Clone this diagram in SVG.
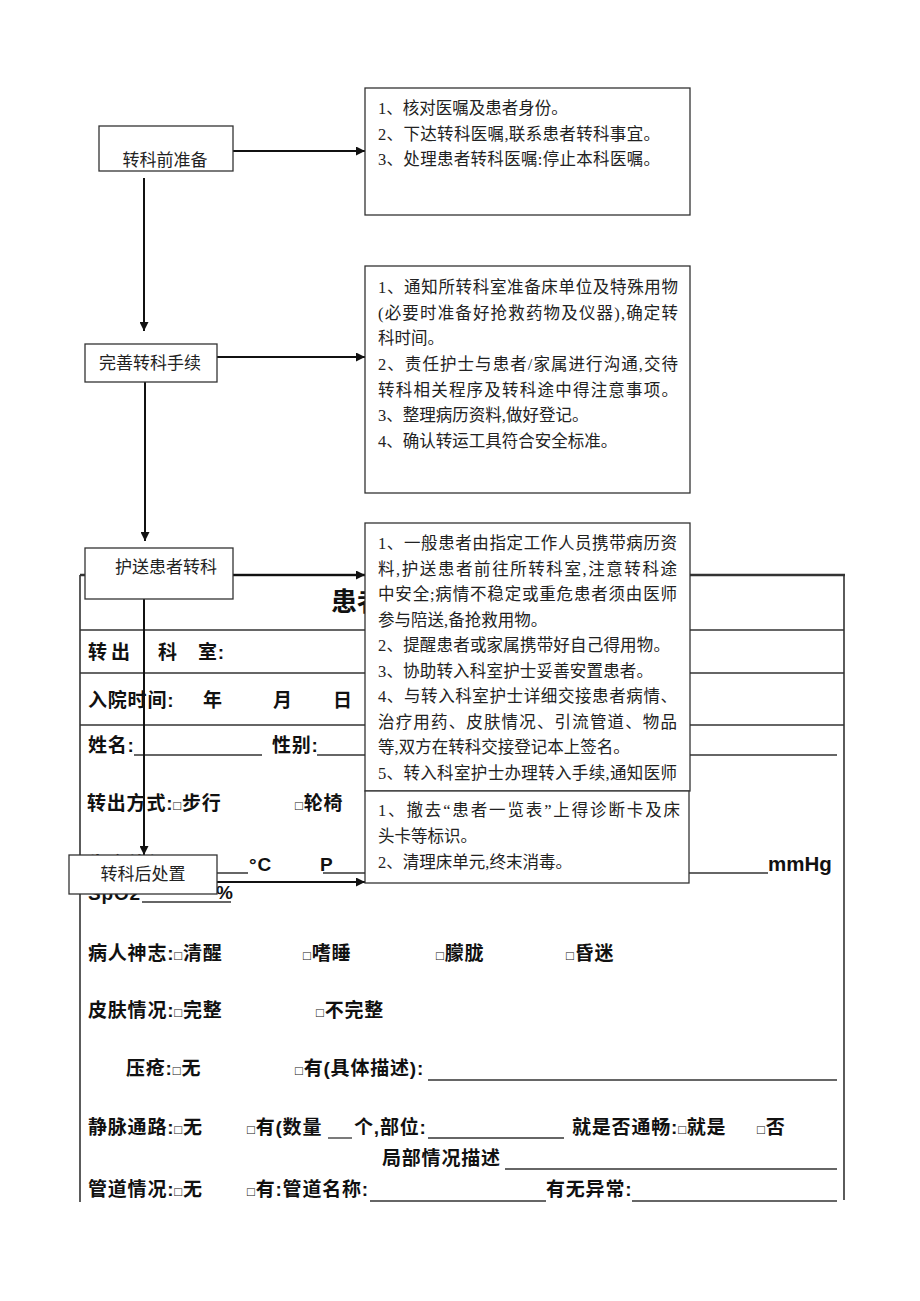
<svg xmlns="http://www.w3.org/2000/svg" width="920" height="1301" viewBox="0 0 920 1301">
<defs>
<style>
.bg{fill:#fff}
.box{fill:#fff;stroke:#333;stroke-width:1.3}
.tl{stroke:#333;stroke-width:1.6;fill:none}
.ul{stroke:#333;stroke-width:1.3;fill:none}
.con{stroke:#111;stroke-width:2;fill:none}
.bt{font-family:"Liberation Serif","Noto Sans CJK SC",serif;font-size:16.5px;fill:#222}
.lb{font-family:"Liberation Serif","Noto Sans CJK SC",serif;font-size:17px;fill:#222;text-anchor:middle}
.tb{font-family:"Liberation Sans","Noto Sans CJK SC",sans-serif;font-size:19px;font-weight:bold;fill:#111;letter-spacing:0.8px}
.cb{font-size:13px;font-weight:normal}
</style>
<marker id="ah" viewBox="0 0 10 10" refX="10" refY="5" markerWidth="10" markerHeight="9" markerUnits="userSpaceOnUse" orient="auto">
<path d="M0,0 L10,5 L0,10 z" fill="#111"/>
</marker>
</defs>
<rect class="bg" x="0" y="0" width="920" height="1301"/>

<g id="form-table">
<line class="tl" x1="80" y1="575" x2="845" y2="575" style="stroke-width:2.4"/>
<line class="tl" x1="80" y1="575" x2="80" y2="1202"/>
<line class="tl" x1="844" y1="575" x2="844" y2="1200"/>
<line class="tl" x1="80" y1="630" x2="844" y2="630"/>
<line class="tl" x1="80" y1="673" x2="844" y2="673"/>
<line class="tl" x1="80" y1="725" x2="844" y2="725"/>
<text x="331" y="611" font-family="'Liberation Sans','Noto Sans CJK SC',sans-serif" font-size="26" font-weight="bold" fill="#111">患者</text>
<text class="tb" y="659"><tspan x="88">转</tspan><tspan x="111">出</tspan><tspan x="158">科</tspan><tspan x="198">室:</tspan></text>
<text class="tb" y="707"><tspan x="88">入院时间:</tspan><tspan x="203">年</tspan><tspan x="273">月</tspan><tspan x="333">日</tspan></text>
<text class="tb" x="88" y="752">姓名:</text>
<line class="ul" x1="134" y1="755" x2="262" y2="755"/>
<text class="tb" x="272" y="752">性别:</text>
<line class="ul" x1="317" y1="755" x2="837" y2="755"/>
<text class="tb" y="810"><tspan x="87">转出方式:<tspan class="cb">□</tspan>步行</tspan><tspan x="295"><tspan class="cb">□</tspan>轮椅</tspan></text>
<text class="tb" x="88" y="871">生命体征:T</text>
<line class="ul" x1="190" y1="873" x2="248" y2="873"/>
<text class="tb" x="249" y="871">°C</text>
<text class="tb" x="320" y="871">P</text>
<line class="ul" x1="323" y1="873" x2="768" y2="873"/>
<text class="tb" x="768" y="871" style="font-size:20.5px;letter-spacing:0">mmHg</text>
<text class="tb" x="88" y="900">SpO2</text>
<line class="ul" x1="142" y1="902" x2="231" y2="902"/>
<text class="tb" x="216" y="899">%</text>
<text class="tb" y="960"><tspan x="88">病人神志:<tspan class="cb">□</tspan>清醒</tspan><tspan x="303"><tspan class="cb">□</tspan>嗜睡</tspan><tspan x="436"><tspan class="cb">□</tspan>朦胧</tspan><tspan x="566"><tspan class="cb">□</tspan>昏迷</tspan></text>
<text class="tb" y="1017"><tspan x="88">皮肤情况:<tspan class="cb">□</tspan>完整</tspan><tspan x="316"><tspan class="cb">□</tspan>不完整</tspan></text>
<text class="tb" y="1075"><tspan x="126">压疮:<tspan class="cb">□</tspan>无</tspan><tspan x="295"><tspan class="cb">□</tspan>有(具体描述):</tspan></text>
<line class="ul" x1="428" y1="1080" x2="837" y2="1080"/>
<text class="tb" y="1134"><tspan x="88">静脉通路:<tspan class="cb">□</tspan>无</tspan><tspan x="247"><tspan class="cb">□</tspan>有(数量</tspan><tspan x="354">个,部位:</tspan><tspan x="572">就是否通畅:<tspan class="cb">□</tspan>就是</tspan><tspan x="757"><tspan class="cb">□</tspan>否</tspan></text>
<line class="ul" x1="328" y1="1138" x2="352" y2="1138"/>
<line class="ul" x1="428" y1="1138" x2="564" y2="1138"/>
<text class="tb" x="382" y="1165">局部情况描述</text>
<line class="ul" x1="505" y1="1169" x2="837" y2="1169"/>
<text class="tb" y="1196"><tspan x="88">管道情况:<tspan class="cb">□</tspan>无</tspan><tspan x="247"><tspan class="cb">□</tspan>有:管道名称:</tspan><tspan x="546">有无异常:</tspan></text>
<line class="ul" x1="370" y1="1201" x2="546" y2="1201"/>
<line class="ul" x1="632" y1="1201" x2="837" y2="1201"/>
</g>

<g id="connectors">
<line class="con" x1="233" y1="151" x2="365" y2="151" marker-end="url(#ah)"/>
<line class="con" x1="144" y1="178" x2="144" y2="331" marker-end="url(#ah)"/>
<line class="con" x1="217" y1="357" x2="365" y2="357" marker-end="url(#ah)"/>
<line class="con" x1="145" y1="382" x2="145" y2="541" marker-end="url(#ah)"/>
<line class="con" x1="233" y1="575" x2="365" y2="575" marker-end="url(#ah)"/>
<line class="con" x1="144" y1="599" x2="144" y2="855" marker-end="url(#ah)"/>
<line class="con" x1="217" y1="882" x2="365" y2="882" marker-end="url(#ah)"/>
</g>

<g id="n-prep">
<rect class="box" x="99" y="126" width="134" height="45"/>
<text class="lb" x="165" y="166" style="font-family:'Noto Sans CJK SC',sans-serif">转科前准备</text>
</g>
<g id="n-prep-detail">
<rect class="box" x="365" y="88" width="325" height="127"/>
<text class="bt" x="378" y="114">1、核对医嘱及患者身份。</text>
<text class="bt" x="378" y="139.5" textLength="282" lengthAdjust="spacing">2、下达转科医嘱,联系患者转科事宜。</text>
<text class="bt" x="378" y="165" textLength="282" lengthAdjust="spacing">3、处理患者转科医嘱:停止本科医嘱。</text>
</g>

<g id="n-proc">
<rect class="box" x="85" y="344" width="132" height="38"/>
<text class="lb" x="150" y="369">完善转科手续</text>
</g>
<g id="n-proc-detail">
<rect class="box" x="365" y="266" width="325" height="227"/>
<text class="bt" x="378" y="293" textLength="300" lengthAdjust="spacing">1、通知所转科室准备床单位及特殊用物</text>
<text class="bt" x="378" y="319" textLength="300" lengthAdjust="spacing">(必要时准备好抢救药物及仪器),确定转</text>
<text class="bt" x="378" y="344">科时间。</text>
<text class="bt" x="378" y="370" textLength="300" lengthAdjust="spacing">2、责任护士与患者/家属进行沟通,交待</text>
<text class="bt" x="378" y="396" textLength="300" lengthAdjust="spacing">转科相关程序及转科途中得注意事项。</text>
<text class="bt" x="378" y="421">3、整理病历资料,做好登记。</text>
<text class="bt" x="378" y="447">4、确认转运工具符合安全标准。</text>
</g>

<g id="n-escort">
<rect class="box" x="85" y="548" width="148" height="51"/>
<text class="lb" x="166" y="573">护送患者转科</text>
</g>
<g id="n-escort-detail">
<rect class="box" x="365" y="523" width="325" height="268"/>
<text class="bt" x="378" y="549" textLength="299" lengthAdjust="spacing">1、一般患者由指定工作人员携带病历资</text>
<text class="bt" x="378" y="574.5" textLength="299" lengthAdjust="spacing">料,护送患者前往所转科室,注意转科途</text>
<text class="bt" x="378" y="600" textLength="299" lengthAdjust="spacing">中安全;病情不稳定或重危患者须由医师</text>
<text class="bt" x="378" y="625.5">参与陪送,备抢救用物。</text>
<text class="bt" x="378" y="651" textLength="292" lengthAdjust="spacing">2、提醒患者或家属携带好自己得用物。</text>
<text class="bt" x="378" y="676.5" textLength="275" lengthAdjust="spacing">3、协助转入科室护士妥善安置患者。</text>
<text class="bt" x="378" y="702" textLength="299" lengthAdjust="spacing">4、与转入科室护士详细交接患者病情、</text>
<text class="bt" x="378" y="727.5" textLength="299" lengthAdjust="spacing">治疗用药、皮肤情况、引流管道、物品</text>
<text class="bt" x="378" y="753">等,双方在转科交接登记本上签名。</text>
<text class="bt" x="378" y="778.5" textLength="299" lengthAdjust="spacing">5、转入科室护士办理转入手续,通知医师</text>
</g>

<g id="n-after-detail">
<rect class="box" x="365" y="791" width="324" height="92"/>
<text class="bt" x="378" y="816" textLength="302" lengthAdjust="spacing">1、撤去“患者一览表”上得诊断卡及床</text>
<text class="bt" x="378" y="842">头卡等标识。</text>
<text class="bt" x="378" y="868">2、清理床单元,终末消毒。</text>
</g>
<g id="n-after">
<rect class="box" x="69" y="855" width="148" height="39"/>
<text class="lb" x="143" y="880">转科后处置</text>
</g>
</svg>
